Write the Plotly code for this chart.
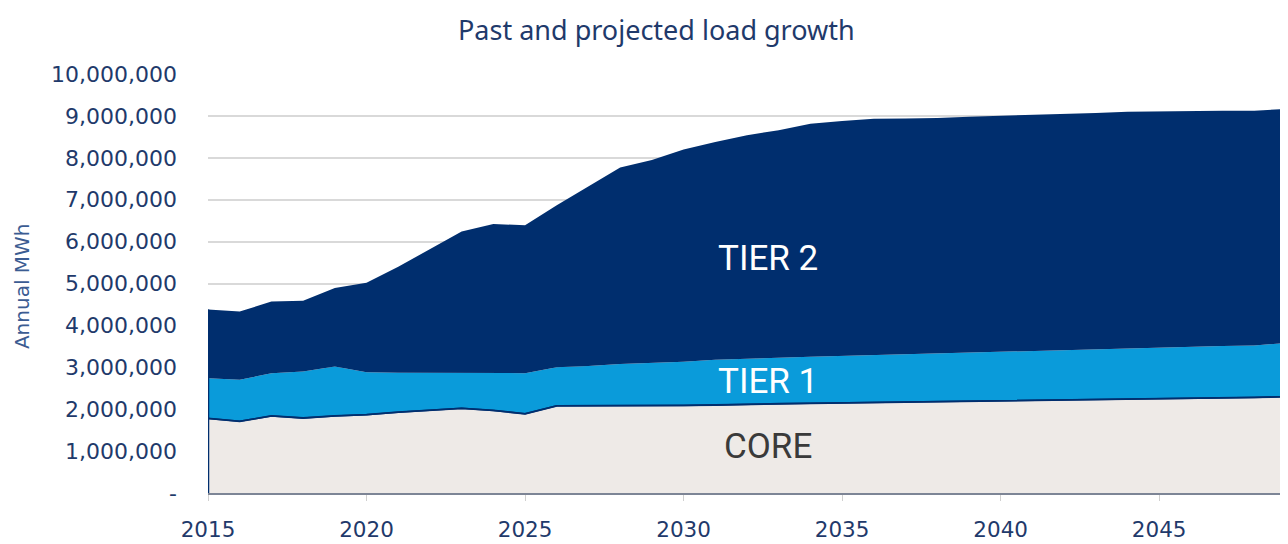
import plotly.graph_objects as go

years = list(range(2015, 2050))

# cumulative boundaries (million MWh)
core = [1.78, 1.71, 1.84, 1.79, 1.84, 1.87, 1.93, 1.98, 2.02, 1.97,
        1.89, 2.08, 2.08, 2.08, 2.08, 2.09, 2.10, 2.12, 2.13, 2.14,
        2.15, 2.16, 2.17, 2.17, 2.18, 2.19, 2.20, 2.21, 2.22, 2.23,
        2.24, 2.25, 2.26, 2.28, 2.30]
core_plus_tier1 = [2.74, 2.70, 2.86, 2.90, 3.02, 2.88, 2.87, 2.87, 2.87, 2.87,
                   2.86, 3.00, 3.03, 3.08, 3.10, 3.13, 3.18, 3.21, 3.23, 3.25,
                   3.27, 3.30, 3.31, 3.33, 3.35, 3.37, 3.39, 3.41, 3.43, 3.45,
                   3.47, 3.49, 3.51, 3.52, 3.58]
total_load = [4.38, 4.33, 4.57, 4.59, 4.89, 5.02, 5.40, 5.82, 6.24, 6.42,
              6.39, 6.87, 7.31, 7.77, 7.95, 8.20, 8.38, 8.54, 8.66, 8.81,
              8.88, 8.93, 8.94, 8.95, 8.98, 9.00, 9.02, 9.04, 9.07, 9.10,
              9.11, 9.11, 9.12, 9.12, 9.17]

core = [v * 1e6 for v in core]
core_plus_tier1 = [v * 1e6 for v in core_plus_tier1]
total_load = [v * 1e6 for v in total_load]

y_tickvals = [0, 1e6, 2e6, 3e6, 4e6, 5e6, 6e6, 7e6, 8e6, 9e6, 1e7]
y_ticktext = ["-", "1,000,000", "2,000,000", "3,000,000", "4,000,000", "5,000,000",
              "6,000,000", "7,000,000", "8,000,000", "9,000,000", "10,000,000"]
x_tickvals = [2015, 2020, 2025, 2030, 2035, 2040, 2045]

NAVY = "#002E6E"
LIGHT = "#0A9BDA"
CORE = "#EEEAE7"
TXT = "#1F3A6B"

fig = go.Figure()
fig.add_trace(go.Scatter(x=years, y=core, mode="lines", fill="tozeroy",
                         fillcolor=CORE, line=dict(color=NAVY, width=1.5),
                         hoverinfo="skip", name="CORE"))
fig.add_trace(go.Scatter(x=years, y=core_plus_tier1, mode="lines", fill="tonexty",
                         fillcolor=LIGHT, line=dict(color=LIGHT, width=0),
                         hoverinfo="skip", name="TIER 1"))
fig.add_trace(go.Scatter(x=years, y=total_load, mode="lines", fill="tonexty",
                         fillcolor=NAVY, line=dict(color=NAVY, width=0),
                         hoverinfo="skip", name="TIER 2"))
# core boundary line on top
fig.add_trace(go.Scatter(x=years, y=core, mode="lines",
                         line=dict(color=NAVY, width=1.8),
                         hoverinfo="skip", showlegend=False))
# edges of the area
fig.add_trace(go.Scatter(x=[years[0], years[0]], y=[0, total_load[0]], mode="lines",
                         line=dict(color=NAVY, width=2.5), hoverinfo="skip",
                         showlegend=False))
fig.add_trace(go.Scatter(x=[years[-1], years[-1]], y=[0, total_load[-1]], mode="lines",
                         line=dict(color="#55657f", width=2), hoverinfo="skip",
                         showlegend=False))

label_font = "Liberation Sans Narrow, Roboto, Arial Narrow, sans-serif"
fig.add_annotation(x=2032.65, y=5.585e6, text="TIER 2", showarrow=False,
                   font=dict(family=label_font, size=35, color="white"))
fig.add_annotation(x=2032.65, y=2.65e6, text="TIER 1", showarrow=False,
                   font=dict(family=label_font, size=35, color="white"))
fig.add_annotation(x=2032.65, y=1.12e6, text="CORE", showarrow=False,
                   font=dict(family=label_font, size=35, color="#3a3a3a"))

fig.add_annotation(xref="paper", yref="paper", x=-0.1725, y=0.494,
                   xanchor="center", yanchor="middle",
                   text="Annual MWh", textangle=-90, showarrow=False,
                   font=dict(family="DejaVu Sans, sans-serif", size=20, color="#3B5C92"))

# chart title
fig.add_annotation(xref="paper", yref="paper", x=0.416, y=1.155,
                   xanchor="center", yanchor="top",
                   text="Past and projected load growth", showarrow=False,
                   font=dict(family="Noto Sans, Open Sans, sans-serif", size=27, color=TXT))

fig.update_layout(
    width=1280, height=536,
    margin=dict(l=200, r=2, t=66, b=51),
    paper_bgcolor="white", plot_bgcolor="white",
    showlegend=False,
    font=dict(family="DejaVu Sans, sans-serif", color=TXT),
)
fig.update_xaxes(range=[2015, 2049], tickvals=x_tickvals,
                 ticktext=[str(v) for v in x_tickvals],
                 tickfont=dict(size=21.5, color=TXT), showgrid=False,
                 showline=True, linecolor="#7d8596", linewidth=2,
                 mirror=False, ticks="outside", ticklen=6, tickcolor="#d0d0d0",
                 zeroline=False, ticklabelstandoff=10)
fig.update_yaxes(range=[0, 1e7], tickvals=y_tickvals, ticktext=y_ticktext,
                 tickfont=dict(size=22, color=TXT), showgrid=True,
                 gridcolor="#d9d9d9", gridwidth=2, zeroline=False,
                 showline=False, ticklabelstandoff=30)

fig.write_html("out.html")
